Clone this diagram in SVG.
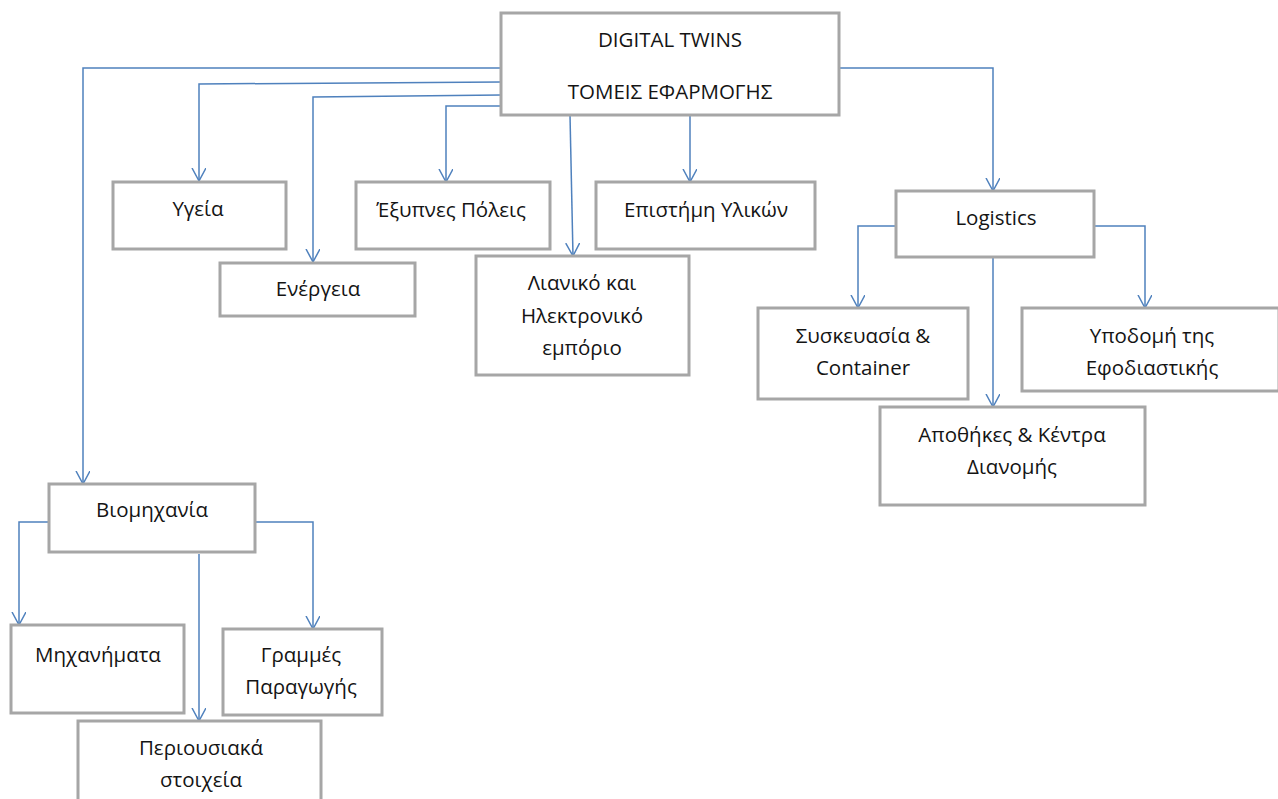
<svg xmlns="http://www.w3.org/2000/svg" width="1278" height="799" viewBox="0 0 1278 799">
<style>
.box{fill:#fff;stroke:#a6a6a6;stroke-width:3}
.t{font-family:"Open Sans","Noto Sans","Liberation Sans",sans-serif;font-size:20.5px;fill:#141414;text-anchor:middle}
.c{fill:none;stroke:#4f81bd;stroke-width:1.5}
</style>
<defs>
<marker id="ah" markerWidth="16" markerHeight="16" refX="13" refY="7" orient="auto" markerUnits="userSpaceOnUse">
<path d="M0,0 L13,7 L0,14" fill="none" stroke="#4f81bd" stroke-width="1.5"/>
</marker>
</defs>
<rect width="1278" height="799" fill="#fff"/>
<g id="connectors">
<path class="c" d="M501,68 H83 V484" marker-end="url(#ah)"/>
<path class="c" d="M501,82 L199,84 V181" marker-end="url(#ah)"/>
<path class="c" d="M501,95 L313,97 V262" marker-end="url(#ah)"/>
<path class="c" d="M501,106 H446 V182" marker-end="url(#ah)"/>
<path class="c" d="M570,115 L573,256" marker-end="url(#ah)"/>
<path class="c" d="M690,115 V182" marker-end="url(#ah)"/>
<path class="c" d="M839,68 H993 V191" marker-end="url(#ah)"/>
<path class="c" d="M896,226 H858 V308" marker-end="url(#ah)"/>
<path class="c" d="M993,257 V407" marker-end="url(#ah)"/>
<path class="c" d="M1094,226 H1145 V308" marker-end="url(#ah)"/>
<path class="c" d="M49,522 H19 V625" marker-end="url(#ah)"/>
<path class="c" d="M199,554 V721" marker-end="url(#ah)"/>
<path class="c" d="M255,522 H313 V629" marker-end="url(#ah)"/>
</g>
<g id="root"><rect class="box" x="501" y="13" width="338" height="102"/><text class="t" x="670" y="47">DIGITAL TWINS</text><text class="t" x="670" y="99">ΤΟΜΕΙΣ ΕΦΑΡΜΟΓΗΣ</text></g>
<g id="ygeia"><rect class="box" x="113" y="182" width="173" height="67"/><text class="t" x="198" y="216">Υγεία</text></g>
<g id="energeia"><rect class="box" x="220" y="263" width="195" height="53"/><text class="t" x="318" y="296">Ενέργεια</text></g>
<g id="poleis"><rect class="box" x="356" y="182" width="194" height="67"/><text class="t" x="451" y="217">Έξυπνες Πόλεις</text></g>
<g id="epistimi"><rect class="box" x="596" y="182" width="219" height="67"/><text class="t" x="706" y="217">Επιστήμη Υλικών</text></g>
<g id="lianiko"><rect class="box" x="476" y="256" width="213" height="119"/><text class="t" x="582" y="290">Λιανικό και</text><text class="t" x="582" y="323">Ηλεκτρονικό</text><text class="t" x="582" y="355">εμπόριο</text></g>
<g id="logistics"><rect class="box" x="896" y="191" width="198" height="66"/><text class="t" x="996" y="225">Logistics</text></g>
<g id="syskevasia"><rect class="box" x="758" y="308" width="210" height="91"/><text class="t" x="863" y="343">Συσκευασία &amp;</text><text class="t" x="863" y="375">Container</text></g>
<g id="ypodomi"><rect class="box" x="1022" y="308" width="257" height="83"/><text class="t" x="1152" y="343">Υποδομή της</text><text class="t" x="1152" y="375">Εφοδιαστικής</text></g>
<g id="apothikes"><rect class="box" x="880" y="407" width="265" height="98"/><text class="t" x="1012" y="442">Αποθήκες &amp; Κέντρα</text><text class="t" x="1012" y="474">Διανομής</text></g>
<g id="viomichania"><rect class="box" x="49" y="484" width="206" height="68"/><text class="t" x="152" y="517">Βιομηχανία</text></g>
<g id="michanimata"><rect class="box" x="11" y="625" width="173" height="88"/><text class="t" x="98" y="662">Μηχανήματα</text></g>
<g id="grammes"><rect class="box" x="223" y="629" width="159" height="86"/><text class="t" x="301" y="662">Γραμμές</text><text class="t" x="301" y="694">Παραγωγής</text></g>
<g id="periousiaka"><rect class="box" x="78" y="721" width="243" height="90"/><text class="t" x="201" y="755">Περιουσιακά</text><text class="t" x="201" y="787">στοιχεία</text></g>
</svg>
